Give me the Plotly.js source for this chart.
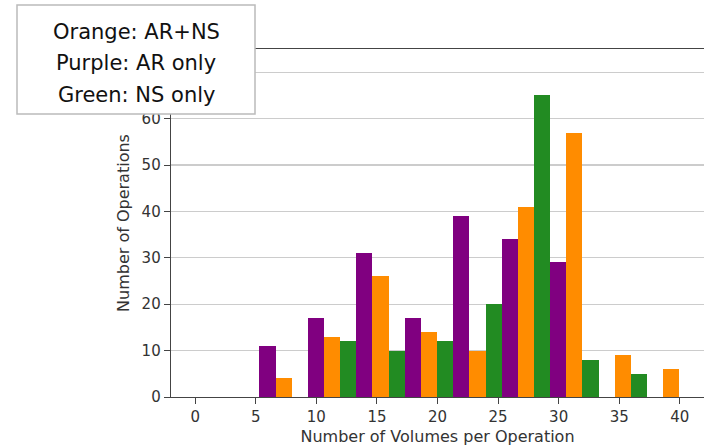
<!DOCTYPE html>
<html>
<head>
<meta charset="utf-8">
<script src="https://cdn.plot.ly/plotly-3.0.1.min.js"></script>
<style>
  html, body { margin: 0; padding: 0; background: #fff; }
  #chart { width: 704px; height: 446px; }
</style>
</head>
<body>
<div id="chart"></div>
<script>
// Histogram bins (centres, width 4)
const binCenters = [7.3, 11.3, 15.3, 19.3, 23.3, 27.3, 31.3, 35.3, 39.3];
// Counts per bin
const arOnly = [11, 17, 31, 17, 39, 34, 29, 0, 0];   // purple
const arNs   = [4, 13, 26, 14, 10, 41, 57, 9, 6];     // orange
const nsOnly = [0, 12, 10, 12, 20, 65, 8, 5, 0];      // green
const xTickVals = [0, 5, 10, 15, 20, 25, 30, 35, 40];
const yTickVals = [0, 10, 20, 30, 40, 50, 60, 70];
const yTickText = ["0", "10", "20", "30", "40", "50", "60", ""]; // 70 is hidden behind the note box
const noteLines = ["Orange: AR+NS", "Purple: AR only", "Green: NS only"];

const font = "DejaVu Sans, sans-serif";

const traces = [
  { type: "bar", name: "AR only", x: binCenters, y: arOnly, marker: { color: "#800080" } },
  { type: "bar", name: "AR+NS",   x: binCenters, y: arNs,   marker: { color: "#ff8c00" } },
  { type: "bar", name: "NS only", x: binCenters, y: nsOnly, marker: { color: "#228b22" } }
];

// plot area: x 171..704 px, y 49..397 px
const PL = 171, PW = 533, PB = 397, PH = 348;
const noteCentersPx = [31.7, 63.3, 94.8];
const annotations = noteLines.map((t, i) => ({
  xref: "paper", yref: "paper",
  x: (136 - PL) / PW, y: (PB - noteCentersPx[i]) / PH,
  xanchor: "center", yanchor: "middle",
  text: t, showarrow: false,
  font: { family: "DejaVu Sans, sans-serif", size: 21, color: "#111" }
}));

const layout = {
  width: 704, height: 446,
  margin: { l: 171, r: 0, t: 49, b: 49, pad: 0 },
  paper_bgcolor: "#ffffff", plot_bgcolor: "#ffffff",
  showlegend: false,
  barmode: "group", bargap: 0, bargroupgap: 0,
  xaxis: {
    range: [-2, 42],
    tickvals: xTickVals, ticktext: xTickVals.map(String),
    showgrid: false, zeroline: false,
    showline: true, linecolor: "#444", linewidth: 1.3, mirror: true,
    ticks: "outside", ticklen: 6, tickwidth: 1, tickcolor: "#444",
    tickfont: { family: font, size: 15, color: "#333" },
    title: { text: "Number of Volumes per Operation", font: { family: font, size: 16, color: "#333" }, standoff: 6 },
    automargin: false
  },
  yaxis: {
    range: [0, 75],
    tickvals: yTickVals, ticktext: yTickText,
    showgrid: true, gridcolor: "#cccccc", gridwidth: 1.3,
    zeroline: false,
    showline: true, linecolor: "#444", linewidth: 1.3, mirror: false,
    ticks: "outside", ticklen: 6, tickwidth: 1, tickcolor: "#444",
    tickfont: { family: font, size: 15, color: "#333" },
    title: { text: "Number of Operations", font: { family: font, size: 16, color: "#333" }, standoff: 8 },
    automargin: false
  },
  shapes: [{
    type: "rect", xref: "paper", yref: "paper", layer: "above",
    x0: (17 - PL) / PW, x1: (255 - PL) / PW,
    y0: (PB - 114) / PH, y1: (PB - 5) / PH,
    fillcolor: "#ffffff",
    line: { color: "#bbbbbb", width: 1.5 }
  }],
  annotations: annotations
};

Plotly.newPlot("chart", traces, layout, { displayModeBar: false, staticPlot: true });
</script>
</body>
</html>
